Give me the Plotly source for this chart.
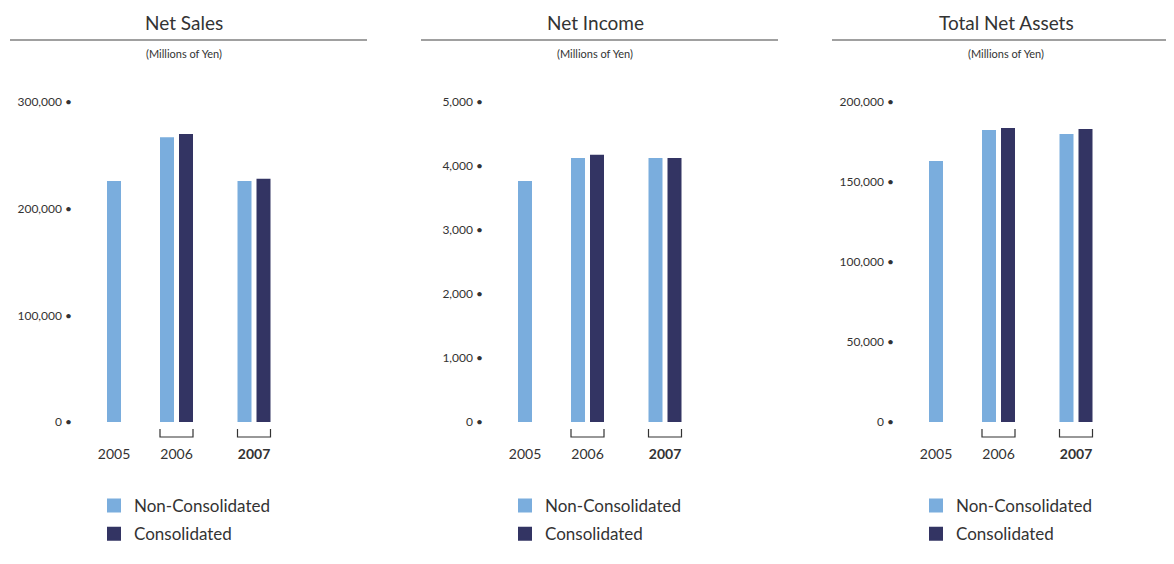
import plotly.graph_objects as go

# ---------------- data ----------------
years = ["2005", "2006", "2007"]
panel_titles = ["Net Sales", "Net Income", "Total Net Assets"]
unit_label = "(Millions of Yen)"
series_names = ["Non-Consolidated", "Consolidated"]

net_sales_noncon = [225000, 266000, 225000]
net_sales_con = [None, 269000, 227000]
net_income_noncon = [3750, 4110, 4110]
net_income_con = [None, 4160, 4110]
net_assets_noncon = [162500, 181900, 179400]
net_assets_con = [None, 183100, 182500]

y_max = [300000, 5000, 200000]
y_step = [100000, 1000, 50000]

# ---------------- layout constants ----------------
PAGE_W, PAGE_H = 1174, 564
BODY = 8                            # default page margin of the html body
W, H = PAGE_W - 2 * BODY, PAGE_H - 2 * BODY
PANEL_OFFSET = [0, 411, 822]
PLOT_L, PLOT_R = 75, 340            # plot area (page px, relative to panel)
PLOT_TOP, PLOT_BOT = 102, 422       # page px from top
GROUP_CENTERS = [114, 176.5, 254]   # page px, relative to panel
BAR_W = 12                          # plus 2px outline -> 14px visual
OUTLINE = 2
PAIR_SHIFT = 9.5
C_LIGHT = "#7aaddd"
C_DARK = "#333463"
TEXT = "#333333"
FONT = "Lato"


def fx(px):
    return (px - BODY) / W


def fy(py):
    return 1 - (py - BODY) / H


panels = [
    (net_sales_noncon, net_sales_con),
    (net_income_noncon, net_income_con),
    (net_assets_noncon, net_assets_con),
]

fig = go.Figure()
shapes = []
annotations = []
layout_axes = {}

for i, (noncon, con) in enumerate(panels):
    off = PANEL_OFFSET[i]
    sfx = "" if i == 0 else str(i + 1)
    xa, ya = "x" + sfx, "y" + sfx
    leg = "legend" + sfx

    x_non, x_con, y_con = [], [], []
    for g, (vn, vc) in enumerate(zip(noncon, con)):
        c = GROUP_CENTERS[g]
        if vc is None:
            x_non.append(c)
        else:
            x_non.append(c - PAIR_SHIFT)
            x_con.append(c + PAIR_SHIFT)
            y_con.append(vc)

    fig.add_trace(go.Bar(x=x_non, y=noncon, width=BAR_W, marker_color=C_LIGHT,
                         marker_line=dict(width=OUTLINE, color=C_LIGHT),
                         name=series_names[0],
                         xaxis=xa, yaxis=ya, legend=leg, legendgroup=f"a{i}",
                         hoverinfo="y"))
    fig.add_trace(go.Bar(x=x_con, y=y_con, width=BAR_W, marker_color=C_DARK,
                         marker_line=dict(width=OUTLINE, color=C_DARK),
                         name=series_names[1],
                         xaxis=xa, yaxis=ya, legend=leg, legendgroup=f"b{i}",
                         hoverinfo="y"))

    tick_text = [years[0], years[1], "<b>" + years[2] + "</b>"]
    layout_axes["xaxis" + sfx] = dict(
        domain=[fx(off + PLOT_L), fx(off + PLOT_R)],
        range=[PLOT_L, PLOT_R], anchor=ya,
        showgrid=False, zeroline=False, showline=False,
        tickmode="array", tickvals=GROUP_CENTERS, ticktext=tick_text,
        ticks="", ticklabelstandoff=22,
        tickfont=dict(size=14, color=TEXT, family=FONT),
        fixedrange=True, automargin=False,
    )
    tv = list(range(0, y_max[i] + 1, y_step[i]))
    layout_axes["yaxis" + sfx] = dict(
        domain=[fy(PLOT_BOT), fy(PLOT_TOP)],
        range=[0, y_max[i]], anchor=xa,
        showgrid=False, zeroline=False, showline=False,
        tickmode="array", tickvals=tv,
        ticktext=[f"{v:,} •" for v in tv],
        ticks="", ticklabelstandoff=2,
        tickfont=dict(size=12, color=TEXT, family=FONT),
        fixedrange=True, automargin=False,
    )

    layout_axes[leg] = dict(
        x=fx(off + 94), xanchor="left", y=fy(488), yanchor="top",
        font=dict(size=17, color=TEXT, family=FONT),
        bgcolor="rgba(0,0,0,0)", tracegroupgap=3, traceorder="grouped",
        itemclick=False, itemdoubleclick=False,
    )

    cx = off + 184
    annotations.append(dict(text=panel_titles[i], x=fx(cx), y=fy(22),
                            xref="paper", yref="paper", showarrow=False,
                            xanchor="center", yanchor="middle",
                            font=dict(size=19, color=TEXT, family=FONT)))
    annotations.append(dict(text=unit_label, x=fx(cx), y=fy(54),
                            xref="paper", yref="paper", showarrow=False,
                            xanchor="center", yanchor="middle",
                            font=dict(size=11, color=TEXT, family=FONT)))
    shapes.append(dict(type="line", xref="paper", yref="paper",
                       x0=fx(off + 10), x1=min(fx(off + 367), 1.0),
                       y0=fy(40), y1=fy(40),
                       line=dict(color="#808080", width=1.5)))

    for g in (1, 2):
        c = GROUP_CENTERS[g]
        x0, x1 = c - PAIR_SHIFT - 7, c + PAIR_SHIFT + 7
        shapes.append(dict(type="path", xref=xa, yref="paper",
                           path=f"M {x0},{fy(429)} L {x0},{fy(437)} L {x1},{fy(437)} L {x1},{fy(429)}",
                           line=dict(color=TEXT, width=1.2)))

fig.update_layout(
    width=W, height=H,
    margin=dict(l=0, r=0, t=0, b=0, autoexpand=False),
    paper_bgcolor="white", plot_bgcolor="white",
    barmode="overlay",
    shapes=shapes, annotations=annotations,
    font=dict(family=FONT, color=TEXT),
    **layout_axes,
)

fig.write_html("out.html")
